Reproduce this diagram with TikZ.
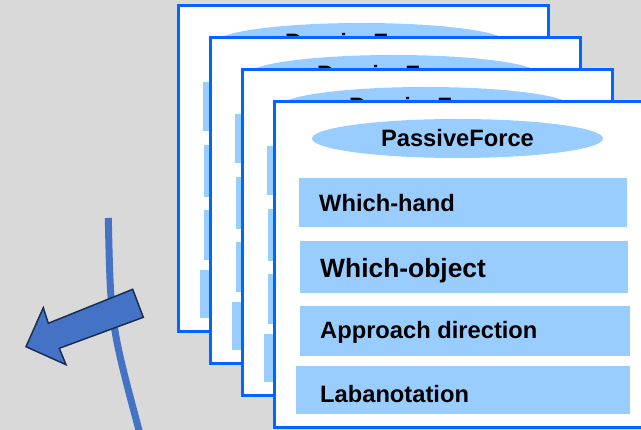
\documentclass[tikz,border=0pt]{standalone}
\usepackage{fontspec}
\setmainfont{Liberation Sans}
\usetikzlibrary{shapes.geometric}
\definecolor{bg}{RGB}{217,217,217}
\definecolor{cardedge}{RGB}{0,102,255}
\definecolor{barfill}{RGB}{153,204,255}
\definecolor{arrowfill}{RGB}{68,114,196}
\definecolor{arrowedge}{RGB}{26,46,84}
\begin{document}
\begin{tikzpicture}[x=1pt,y=-1pt,
  card/.style={draw=cardedge,fill=white,line width=3pt},
  oval/.style={ellipse,fill=barfill,inner sep=0pt,minimum width=291pt,minimum height=39pt},
  bar/.style={rectangle,fill=barfill,inner sep=0pt,anchor=north west},
  label/.style={anchor=base west,inner sep=0pt,font=\bfseries\fontsize{23.7}{28}\selectfont},
  biglabel/.style={label,font=\bfseries\fontsize{26.4}{31}\selectfont},
  title/.style={anchor=base,inner sep=0pt,font=\bfseries\fontsize{23.7}{28}\selectfont},
  arc/.style={draw=arrowfill,line width=7pt},
  blockarrow/.style={draw=arrowedge,fill=arrowfill,line width=1.5pt,line join=miter}]
\useasboundingbox (0,0) rectangle (641,430);
\clip (0,0) rectangle (641,430);
\fill[bg] (0,0) rectangle (641,430);

% curved guide line, drawn under the block arrow
\coordinate (arcA) at (108.3,218);
\coordinate (arcB) at (140,434);
\draw[arc] (arcA) .. controls (110.6,324) .. (arcB);

% block arrow pointing down-left
\draw[blockarrow] (26,346.7) -- (43.3,307.7) -- (48.3,323.3) -- (132.7,289.3)
  -- (143.3,317.3) -- (59.3,348.3) -- (66,364.7) -- cycle;

% stack of four cards; the rear ones only show their edges and titles
\foreach \i in {0,1,2,3} {
  \begin{scope}[shift={(178+32*\i,6+32*\i)}]
    \draw[card] (0,0) rectangle (370,326);
    \node[oval] (ov\i) at (183.5,36.5) {};
    \node[title] (pf\i) at (183.5,44.7) {PassiveForce};
    \node[bar,minimum width=328pt,minimum height=48.7pt] (ba\i) at (25,76) {};
    \node[bar,minimum width=328pt,minimum height=51.7pt] (bb\i) at (26,139) {};
    \node[bar,minimum width=330pt,minimum height=49.7pt] (bc\i) at (26,204) {};
    \node[bar,minimum width=334pt,minimum height=48pt] (bd\i) at (22,264) {};
  \end{scope}
}

% field labels of the front card
\begin{scope}[shift={(274,102)}]
  \node[label] (ta) at (45,109.7) {Which-hand};
  \node[biglabel] (tb) at (46,175.7) {Which-object};
  \node[label] (tc) at (46,237) {Approach direction};
  \node[label] (td) at (46,300.3) {Labanotation};
\end{scope}
\end{tikzpicture}
\end{document}
